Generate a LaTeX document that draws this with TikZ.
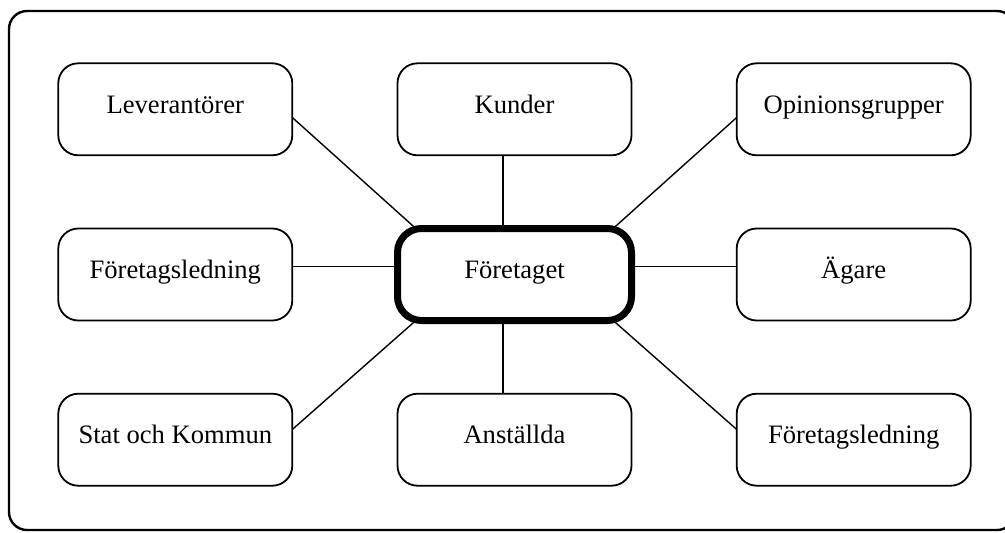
\documentclass[tikz,border=0pt]{standalone}
\usepackage{fontspec}
\setmainfont{Liberation Serif}
\tikzset{
  party/.style={draw, line width=0.9pt, rounded corners=10pt, minimum width=117pt, minimum height=46pt,
    inner sep=0pt, outer sep=0pt, text height=9pt, text depth=5pt},
  firm/.style={party, line width=3.5pt, rounded corners=12pt},
  tie/.style={line width=0.7pt}
}
\begin{document}
\begin{tikzpicture}

  \fontsize{13.3}{16}\selectfont

  \newcommand\ColW{169.6pt}
  \newcommand\RowH{82.6pt}

  \useasboundingbox (-257.25pt,-128.75pt) rectangle (245.25pt,137.25pt);
  \draw[line width=1.2pt, rounded corners=9pt] (-252.75pt,-127.75pt) rectangle (250.25pt,131.75pt);

  \node[firm] (ftg) at (0*\ColW, 0*\RowH) {Företaget};

  \node[party] (lev) at (-1*\ColW, 1*\RowH) {Leverantörer};
  \node[party] (kund) at (0*\ColW, 1*\RowH) {Kunder};
  \node[party] (opin) at (1*\ColW, 1*\RowH) {Opinionsgrupper};
  \node[party] (ledv) at (-1*\ColW, 0*\RowH) {Företagsledning};
  \node[party] (agare) at (1*\ColW, 0*\RowH) {Ägare};
  \node[party] (stat) at (-1*\ColW, -1*\RowH) {Stat och Kommun};
  \node[party] (anst) at (0*\ColW, -1*\RowH) {Anställda};
  \node[party] (ledh) at (1*\ColW, -1*\RowH) {Företagsledning};

  \draw[tie] (lev.-4) -- (ftg.155); %% top left
  \draw[tie] (kund.-104) -- (ftg.104); %% top
  \draw[tie] (opin.184) -- (ftg.25); %% top right
  \draw[tie] (ledv.4) -- (ftg.176); %% left
  \draw[tie] (agare.176) -- (ftg.4); %% right
  \draw[tie] (stat.5) -- (ftg.205); %% bottom left
  \draw[tie] (anst.104) -- (ftg.-104); %% bottom
  \draw[tie] (ledh.175) -- (ftg.-25); %% bottom right
\end{tikzpicture}
\end{document}
